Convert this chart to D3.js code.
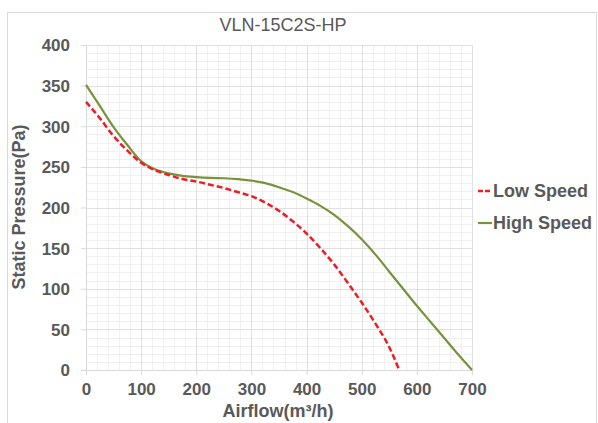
<!DOCTYPE html>
<html>
<head>
<meta charset="utf-8">
<script src="https://cdn.jsdelivr.net/npm/d3@7"></script>
<style>
  body { margin: 0; background: #fff; }
  text { font-family: "Liberation Sans", Arial, sans-serif; fill: #595959; }
</style>
</head>
<body>
<div id="svg"></div>
<script>
// curve data
var lowFlow = [0, 25, 50, 75, 100, 125, 150, 175, 200, 225, 250, 275, 300, 325, 350, 375, 400, 425, 450, 475, 500, 525, 550, 568];
var lowPressure = [330, 310, 288, 270, 255, 246, 240, 235, 232, 228, 224, 219, 214, 206, 196, 183, 168, 150, 130, 107, 83, 57, 28, 0];
var highFlow = [0, 25, 50, 75, 100, 125, 150, 175, 200, 225, 250, 275, 300, 325, 350, 375, 400, 425, 450, 475, 500, 525, 550, 575, 600, 625, 650, 675, 700];
var highPressure = [351, 325, 299, 277, 257, 247, 242, 239, 237.5, 236.5, 236, 235, 233, 230, 225, 219, 211, 202, 191, 177, 161, 142, 121, 100, 79, 59, 39, 19, 0];
var xTicks = [0, 100, 200, 300, 400, 500, 600, 700];
var yTicks = [0, 50, 100, 150, 200, 250, 300, 350, 400];
var seriesNames = ["Low Speed", "High Speed"];

var svgWidth = 598, svgHeight = 423;
var margin = {top: 45, left: 86, right: 126, bottom: 53};
var chartWidth = svgWidth - margin.left - margin.right;
var chartHeight = svgHeight - margin.top - margin.bottom;

var svg = d3.select("#svg").append("svg")
    .attr("width", svgWidth)
    .attr("height", svgHeight);

// outer chart frame
svg.append("rect")
    .attr("x", 7.5).attr("y", 12.5)
    .attr("width", 589).attr("height", 420)
    .attr("fill", "none")
    .attr("stroke", "#d9d9d9");

var chartGroup = svg.append("g")
    .attr("transform", `translate(${margin.left},${margin.top})`);

var xScale = d3.scaleLinear().domain([0, 700]).range([0, chartWidth]);
var yScale = d3.scaleLinear().domain([0, 400]).range([chartHeight, 0]);

// minor grid
chartGroup.append("g").selectAll("line")
    .data(d3.range(0, 701, 20))
    .enter().append("line")
    .attr("x1", d => Math.round(xScale(d)) + 0.5).attr("x2", d => Math.round(xScale(d)) + 0.5)
    .attr("y1", 0).attr("y2", chartHeight)
    .attr("stroke", "#f0f0f0");
chartGroup.append("g").selectAll("line")
    .data(d3.range(0, 401, 10))
    .enter().append("line")
    .attr("y1", d => Math.round(yScale(d)) + 0.5).attr("y2", d => Math.round(yScale(d)) + 0.5)
    .attr("x1", 0).attr("x2", chartWidth)
    .attr("stroke", "#f0f0f0");

// major grid
chartGroup.append("g").selectAll("line")
    .data(xTicks)
    .enter().append("line")
    .attr("x1", d => Math.round(xScale(d)) + 0.5).attr("x2", d => Math.round(xScale(d)) + 0.5)
    .attr("y1", 0).attr("y2", chartHeight)
    .attr("stroke", "#e0e0e0");
chartGroup.append("g").selectAll("line")
    .data(yTicks)
    .enter().append("line")
    .attr("y1", d => Math.round(yScale(d)) + 0.5).attr("y2", d => Math.round(yScale(d)) + 0.5)
    .attr("x1", 0).attr("x2", chartWidth)
    .attr("stroke", "#e0e0e0");

// axes
var bottomAxis = d3.axisBottom(xScale).tickValues(xTicks).tickSize(5).tickPadding(8);
var leftAxis = d3.axisLeft(yScale).tickValues(yTicks).tickSize(5).tickPadding(11);

var xAxisG = chartGroup.append("g")
    .attr("transform", `translate(0,${chartHeight})`)
    .call(bottomAxis);
var yAxisG = chartGroup.append("g").call(leftAxis);

[xAxisG, yAxisG].forEach(g => {
    g.select(".domain").attr("stroke", "#d9d9d9");
    g.selectAll(".tick line").attr("stroke", "#d9d9d9");
    g.selectAll(".tick text")
        .attr("fill", "#595959")
        .attr("font-size", "17px")
        .attr("font-weight", "bold")
        .attr("font-family", "Liberation Sans, Arial, sans-serif");
});
yAxisG.selectAll(".tick text").attr("dy", "0.35em");

// lines
var line = d3.line()
    .x(d => xScale(d[0]))
    .y(d => yScale(d[1]))
    .curve(d3.curveMonotoneX);

var lowData = lowFlow.map((f, i) => [f, lowPressure[i]]);
var highData = highFlow.map((f, i) => [f, highPressure[i]]);

chartGroup.append("path")
    .datum(highData)
    .attr("d", line)
    .attr("fill", "none")
    .attr("stroke", "#77933c")
    .attr("stroke-width", 2.2);

chartGroup.append("path")
    .datum(lowData)
    .attr("d", line)
    .attr("fill", "none")
    .attr("stroke", "#ee1c25")
    .attr("stroke-width", 2.5)
    .attr("stroke-dasharray", "6,3");

// title
svg.append("text")
    .attr("x", 283).attr("y", 31)
    .attr("text-anchor", "middle")
    .attr("font-size", "18px")
    .attr("fill", "#4d4d4d")
    .text("VLN-15C2S-HP");

// axis labels
svg.append("text")
    .attr("text-anchor", "middle")
    .attr("transform", "translate(25,207)rotate(-90)")
    .attr("font-size", "18px")
    .attr("font-weight", "bold")
    .text("Static Pressure(Pa)");
svg.append("text")
    .attr("text-anchor", "middle")
    .attr("x", 278).attr("y", 417)
    .attr("font-size", "18px")
    .attr("font-weight", "bold")
    .text("Airflow(m³/h)");

// legend
var legend = svg.append("g");
seriesNames.forEach((name, i) => {
    var y = 191 + i * 32;
    legend.append("line")
        .attr("x1", 478).attr("x2", 492)
        .attr("y1", y).attr("y2", y)
        .attr("stroke", i === 0 ? "#ee1c25" : "#77933c")
        .attr("stroke-width", i === 0 ? 2.5 : 2.2)
        .attr("stroke-dasharray", i === 0 ? "5,2" : null);
    legend.append("text")
        .attr("x", 493).attr("y", y)
        .attr("dy", "0.35em")
        .attr("font-size", "18px")
        .attr("font-weight", "bold")
        .text(name);
});
</script>
</body>
</html>
